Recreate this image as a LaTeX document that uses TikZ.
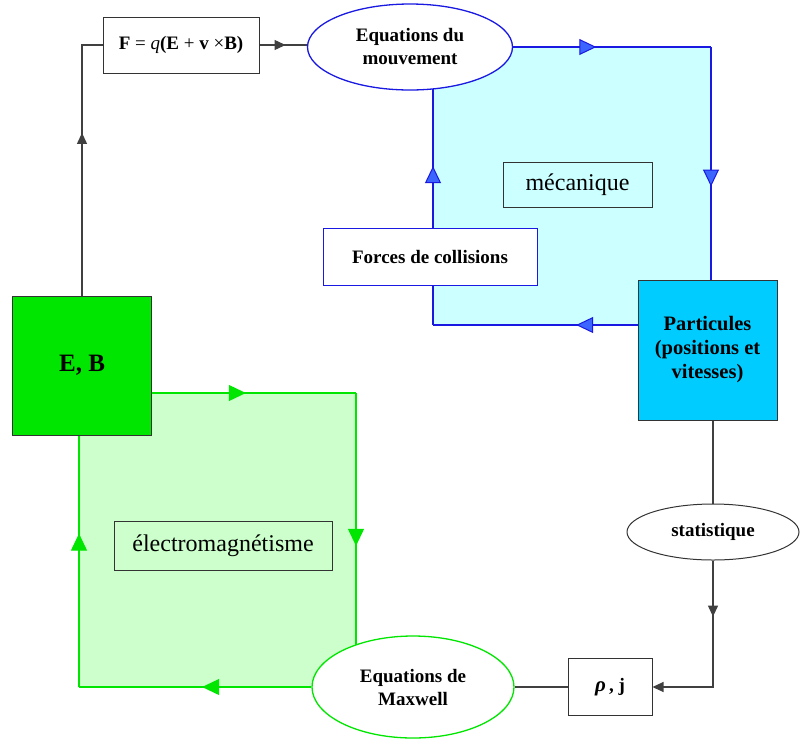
\documentclass[tikz,border=0pt]{standalone}
\usepackage{fontspec}
\setmainfont{Liberation Serif}
\usetikzlibrary{arrows.meta,decorations.markings,shapes.geometric}
\definecolor{bline}{RGB}{25,25,225}
\definecolor{barrow}{RGB}{60,100,255}
\definecolor{cyanbg}{RGB}{204,255,255}
\definecolor{pfill}{RGB}{0,204,255}
\definecolor{gline}{RGB}{0,230,0}
\definecolor{greenbg}{RGB}{204,255,204}
\definecolor{ebfill}{RGB}{0,230,0}
\pgfdeclarelayer{bg}
\pgfsetlayers{bg,main}
\tikzset{
  lbl/.style={font=\fontsize{19}{23}\selectfont\bfseries, align=center},
  big/.style={font=\fontsize{24}{28}\selectfont},
  box/.style={draw=black!80, line width=1pt, inner sep=0pt},
  blueloop/.style={draw=bline, line width=2.4pt},
  greenloop/.style={draw=gline, line width=2.4pt},
  conn/.style={draw=black!75, line width=1.1pt},
  bmark/.style={postaction={decorate}, decoration={markings, mark=at position #1 with {\arrow{Triangle[length=17pt,width=16pt,fill=barrow,line width=1pt]}}}},
  gmark/.style={postaction={decorate}, decoration={markings, mark=at position #1 with {\arrow{Triangle[length=17pt,width=16pt,line width=1pt]}}}},
  kmark/.style={postaction={decorate}, decoration={markings, mark=at position #1 with {\arrow{Triangle[length=11pt,width=10pt]}}}},
}
\begin{document}
\begin{tikzpicture}[x=1pt,y=-1pt]
\useasboundingbox (0,0) rectangle (800,740);

% nodes
\node[box, fill=white, minimum width=156pt, minimum height=56pt, font=\fontsize{19}{23}\selectfont] (F) at (181,45)
  {{\bfseries F} = \textit{q}{\bfseries (E} + {\bfseries v} ×{\bfseries B)}};
\node[ellipse, draw=bline, line width=1.3pt, fill=white, minimum width=205pt, minimum height=86pt, inner sep=0pt, lbl] (EqM) at (410,47) {Equations du\\mouvement};
\node[box, draw=bline, fill=white, minimum width=214pt, minimum height=57pt, lbl] (Coll) at (430,256.5) {Forces de collisions};
\node[box, minimum width=149pt, minimum height=45pt, big] (Mec) at (577.5,184.5) {mécanique};
\node[box, fill=pfill, minimum width=139pt, minimum height=140pt, lbl, font=\fontsize{20.5}{24}\selectfont\bfseries] (P) at (707.5,350) {Particules\\(positions et\\vitesses)};
\node[ellipse, draw=black!80, line width=1pt, fill=white, minimum width=172pt, minimum height=56pt, inner sep=0pt, lbl] (Stat) at (713,532) {statistique};
\node[box, fill=white, minimum width=84pt, minimum height=57pt, lbl] (rho) at (610,687) {\textit{\fontsize{21}{23}\selectfont ρ}\,, j};
\node[ellipse, draw=gline, line width=1.3pt, fill=white, minimum width=202pt, minimum height=102pt, inner sep=0pt, lbl] (Max) at (413,687) {Equations de\\Maxwell};
\node[box, fill=ebfill, minimum width=139pt, minimum height=139pt, font=\fontsize{25}{30}\selectfont\bfseries] (EB) at (82,365.5) {E, B};
\node[box, minimum width=218pt, minimum height=49pt, big] (Elec) at (223,545.5) {électromagnétisme};

\coordinate (bTR) at (711,47);
\coordinate (bBL) at (433,325);
\coordinate (gTR) at (356,393);
\coordinate (gBL) at (79,687);

\begin{pgfonlayer}{bg}
\fill[cyanbg] (bBL) rectangle (bTR);
\fill[greenbg] (gBL) rectangle (gTR);
% blue loop
\draw[blueloop, bmark=0.42] (EqM.center -| EqM.east) -- (bTR);
\draw[blueloop, bmark=0.6] (bTR) -- (bTR |- P.north);
\draw[blueloop, bmark=0.30] (P.west |- bBL) -- (bBL);
\draw[blueloop] (bBL) -- (bBL |- Coll.south);
\draw[blueloop, bmark=0.34] (bBL |- Coll.north) -- (bBL |- EqM.center);
% green loop
\draw[greenloop, gmark=0.46] (EB.east |- gTR) -- (gTR);
\draw[greenloop, gmark=0.52] (gTR) -- (gTR |- Max.center);
\draw[greenloop, gmark=0.47] (Max.west) -- (gBL);
\draw[greenloop, gmark=0.61] (gBL) -- (gBL |- EB.south);
% black connectors
\draw[conn, kmark=0.60] (EB.north) |- (F.west);
\draw[conn, kmark=0.55] (F.east) -- (EqM.west |- F.east);
\draw[conn] (Stat.north |- P.south) -- (Stat.north);
\draw[conn, kmark=0.30, -{Triangle[length=11pt,width=10pt]}] (Stat.south) |- (rho.east);
\draw[conn] (rho.west) -- (Max.east);
\end{pgfonlayer}
\end{tikzpicture}
\end{document}
